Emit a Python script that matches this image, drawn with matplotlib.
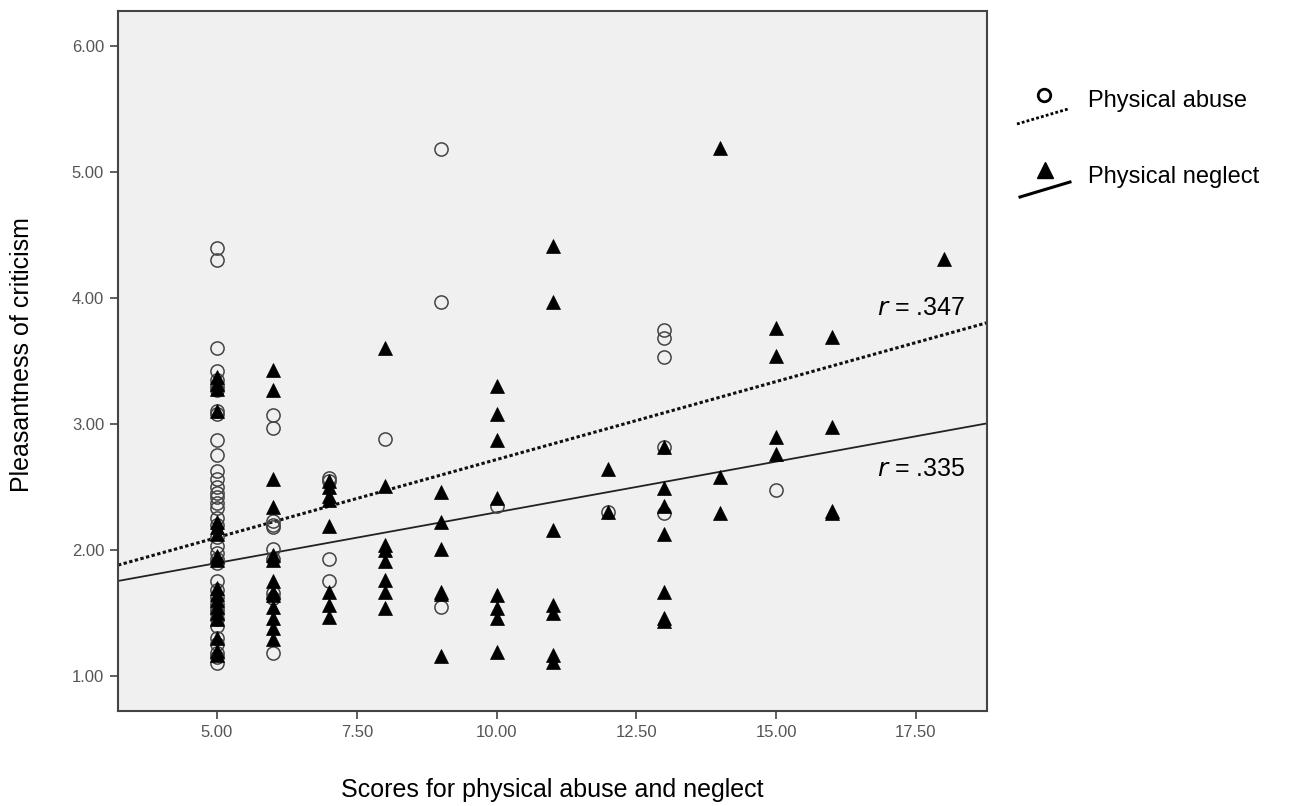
import matplotlib
matplotlib.use("Agg")
import matplotlib.pyplot as plt

plt.rcParams['font.family'] = ['Liberation Sans', 'DejaVu Sans']

# Pleasantness ratings, grouped by score
abuse_by_score = {
    5: [4.40, 4.30, 3.60, 3.42, 3.35, 3.30, 3.27, 3.10, 3.08, 2.87, 2.75, 2.63,
        2.56, 2.50, 2.45, 2.42, 2.37, 2.33, 2.25, 2.20, 2.10, 2.03, 1.98, 1.93,
        1.90, 1.75, 1.68, 1.63, 1.57, 1.53, 1.50, 1.45, 1.40, 1.30, 1.25, 1.18,
        1.15, 1.10],
    6: [3.07, 2.97, 2.23, 2.20, 2.18, 2.01, 1.93, 1.66, 1.62, 1.18],
    7: [2.57, 2.55, 1.93, 1.75],
    8: [2.88],
    9: [5.18, 3.97, 1.55],
    10: [2.35],
    12: [2.30],
    13: [3.75, 3.68, 3.53, 2.82, 2.29],
    15: [2.48],
}
neglect_by_score = {
    5: [3.37, 3.32, 3.28, 3.10, 2.22, 2.18, 2.13, 1.95, 1.92, 1.70, 1.65, 1.60,
        1.55, 1.50, 1.45, 1.30, 1.20, 1.17],
    6: [3.43, 3.27, 2.56, 2.34, 1.96, 1.92, 1.75, 1.67, 1.64, 1.55, 1.46, 1.38, 1.29],
    7: [2.55, 2.50, 2.43, 2.40, 2.19, 1.67, 1.56, 1.47],
    8: [3.60, 2.51, 2.04, 2.00, 1.91, 1.76, 1.67, 1.54],
    9: [2.46, 2.22, 2.01, 1.67, 1.65, 1.16],
    10: [3.30, 3.08, 2.87, 2.41, 1.64, 1.54, 1.46, 1.19],
    11: [4.41, 3.97, 2.16, 1.56, 1.50, 1.17, 1.11],
    12: [2.64, 2.30],
    13: [2.82, 2.49, 2.35, 2.13, 1.67, 1.46, 1.44],
    14: [5.19, 2.58, 2.29],
    15: [3.76, 3.54, 2.90, 2.76],
    16: [3.69, 2.98, 2.31, 2.29],
    18: [4.31],
}

# fit lines (intercept, slope) and correlations
abuse_fit = (1.48, 0.1238)
neglect_fit = (1.494, 0.0805)
abuse_r = '.347'
neglect_r = '.335'

xticks = [5.0, 7.5, 10.0, 12.5, 15.0, 17.5]
yticks = [1.0, 2.0, 3.0, 4.0, 5.0, 6.0]
xlim = (3.23, 18.77)
ylim = (0.722, 6.278)

ax_x, ax_y = [], []
for s, vals in abuse_by_score.items():
    ax_x += [s] * len(vals)
    ax_y += vals
ng_x, ng_y = [], []
for s, vals in neglect_by_score.items():
    ng_x += [s] * len(vals)
    ng_y += vals

fig = plt.figure(figsize=(13.02, 8.06), dpi=100)
ax = fig.add_axes([118 / 1302, 1 - 711 / 806, 869 / 1302, 700 / 806])
ax.set_facecolor('#f0f0f0')

ax.plot(ax_x, ax_y, 'o', ms=9.5, mfc='none', mec='#444444', mew=1.1, zorder=3)
ax.plot(ng_x, ng_y, '^', ms=9.5, mfc='black', mec='black', mew=0.5, zorder=4)

xs = list(xlim)
ax.plot(xs, [abuse_fit[0] + abuse_fit[1] * x for x in xs], color='#111111',
        lw=2.2, ls=(0, (1.1, 0.8)), zorder=2)
ax.plot(xs, [neglect_fit[0] + neglect_fit[1] * x for x in xs], color='#222222',
        lw=1.3, zorder=2)

ax.text(18.38, 3.92, r'$\it{r}$' + ' = ' + abuse_r, ha='right', va='center',
        fontsize=18, color='black')
ax.text(18.38, 2.64, r'$\it{r}$' + ' = ' + neglect_r, ha='right', va='center',
        fontsize=18, color='black')

ax.set_xlim(*xlim)
ax.set_ylim(*ylim)
ax.set_xticks(xticks)
ax.set_yticks(yticks)
ax.set_xticklabels([f'{t:.2f}' for t in xticks])
ax.set_yticklabels([f'{t:.2f}' for t in yticks])
ax.tick_params(direction='out', length=6, width=1.2, color='#444444',
               labelcolor='#555555', labelsize=12, pad=4)
for sp in ax.spines.values():
    sp.set_color('#444444')
    sp.set_linewidth(1.5)

fig.text(552 / 1302, 1 - 790 / 806, 'Scores for physical abuse and neglect',
         fontsize=18, ha='center', va='center')
fig.text(22 / 1302, 1 - 355 / 806, 'Pleasantness of criticism',
         fontsize=18, ha='center', va='center', rotation=90)

# legend drawn in figure pixel space
lg = fig.add_axes([0, 0, 1, 1], facecolor='none')
lg.set_xlim(0, 1302)
lg.set_ylim(806, 0)
lg.axis('off')
lg.plot([1044], [95], 'o', ms=9, mfc='none', mec='black', mew=2)
lg.plot([1017, 1068], [124, 109], color='black', lw=2.0, ls=(0, (1.0, 0.8)))
lg.text(1088, 101, 'Physical abuse', fontsize=17, va='center', ha='left')
lg.plot([1045], [170], '^', ms=11, mfc='black', mec='black')
lg.plot([1020, 1070], [197, 182], color='black', lw=2.2)
lg.text(1088, 177, 'Physical neglect', fontsize=17, va='center', ha='left')

fig.savefig('out.png', dpi=100)
